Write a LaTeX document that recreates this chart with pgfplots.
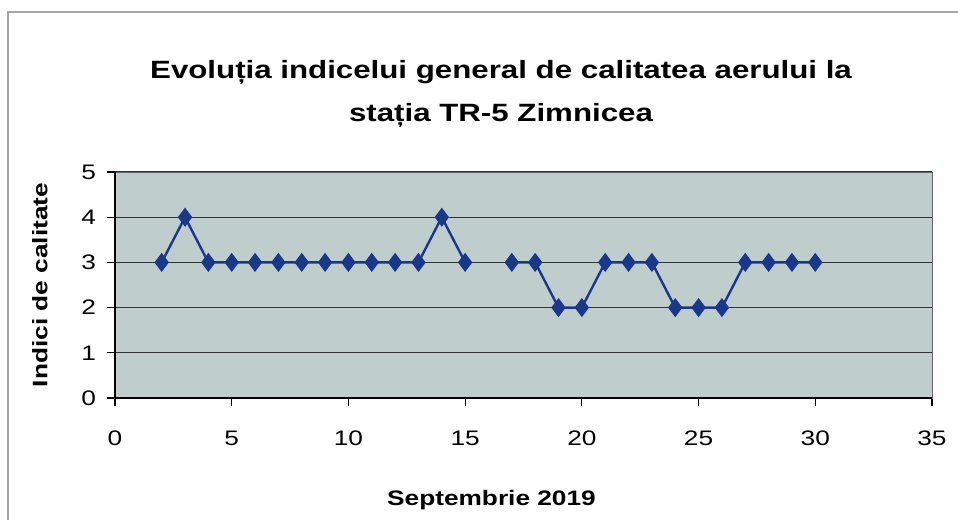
\documentclass[border=0pt]{standalone}
\usepackage{pgfplots}
\pgfplotsset{compat=1.18}
\usepackage{fontspec}
\setmainfont[FakeStretch=1.25]{Liberation Sans}
\definecolor{plotbg}{RGB}{192,205,205}
\definecolor{serblue}{RGB}{26,56,138}
\begin{document}
\begin{tikzpicture}
\useasboundingbox (0pt,0pt) rectangle (479pt,260pt);
\draw[gray!70, line width=0.6pt] (4pt,0pt) -- (4pt,254pt) -- (479pt,254pt);
\node[font=\bfseries\fontsize{12.5}{15}\selectfont, align=center] at (250.5pt,213pt) {Evoluția indicelui general de calitatea aerului la\\[6.5pt] stația TR-5 Zimnicea};
\begin{axis}[
  at={(57.5pt,61pt)}, anchor=south west,
  scale only axis, width=408.5pt, height=113pt,
  xmin=0, xmax=35, ymin=0, ymax=5,
  xtick={0,5,...,35}, ytick={0,1,...,5},
  axis background/.style={fill=plotbg},
  axis line style={gray!80!black, line width=0.5pt},
  ymajorgrids, grid style={black!80, line width=0.55pt},
  tick style={black, line width=0.6pt},
  tick align=outside, major tick length=4pt,
  xtick pos=bottom, ytick pos=left,
  tick label style={font=\fontsize{10.5}{12}\selectfont},
  /pgf/number format/assume math mode=true,
  xticklabel style={yshift=-9pt},
  yticklabel style={xshift=-2pt},
  xlabel={\bfseries Septembrie 2019},
  ylabel={\bfseries Indici de calitate},
  label style={font=\bfseries\fontsize{10.5}{12}\selectfont},
  xlabel style={yshift=-15.5pt, xshift=-16pt},
  ylabel style={yshift=10pt},
  unbounded coords=jump,
  clip=false,
]
\addplot[serblue, line width=1.2pt, mark=diamond*, mark size=3.8pt, mark options={fill=serblue, solid}, /pgf/mark/.cd] coordinates {
(2,3) (3,4) (4,3) (5,3) (6,3) (7,3) (8,3) (9,3) (10,3) (11,3) (12,3) (13,3) (14,4) (15,3) (16,nan)
(17,3) (18,3) (19,2) (20,2) (21,3) (22,3) (23,3) (24,2) (25,2) (26,2) (27,3) (28,3) (29,3) (30,3)
};
\draw[black, line width=0.8pt] (axis cs:0,0) -- (axis cs:35,0);
\draw[black, line width=0.8pt] (axis cs:0,0) -- (axis cs:0,5);
\end{axis}
\end{tikzpicture}
\end{document}
